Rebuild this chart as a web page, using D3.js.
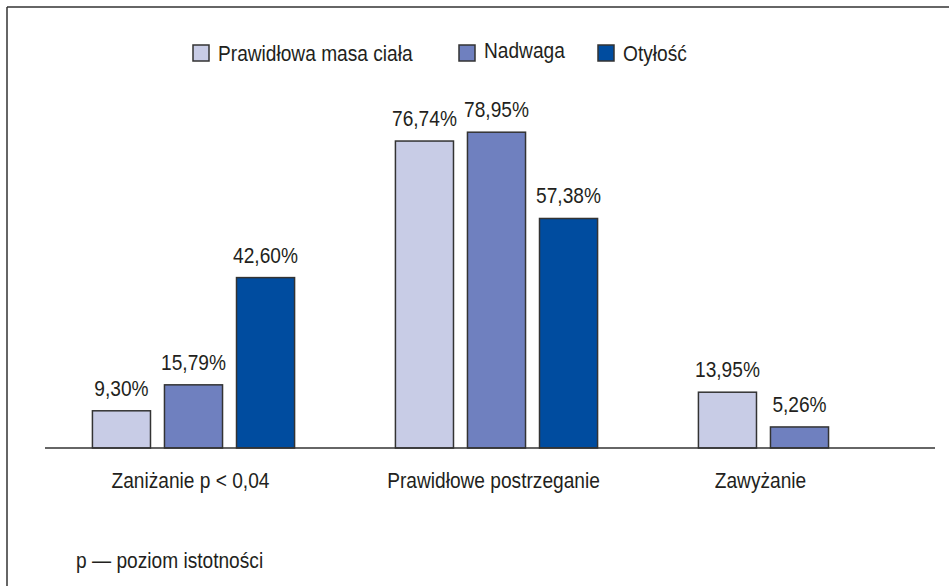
<!DOCTYPE html>
<html>
<head>
<meta charset="utf-8">
<script src="https://cdn.jsdelivr.net/npm/d3@7"></script>
<style>
  body { margin: 0; background: #fff; }
  text { font-family: "Liberation Sans", Arial, sans-serif; font-size: 22px; fill: #231f20; }
</style>
</head>
<body>
<svg id="chart"></svg>
<script>
var width = 949, height = 586;

// data
var categories = ["Zaniżanie p < 0,04", "Prawidłowe postrzeganie", "Zawyżanie"];
var series = ["Prawidłowa masa ciała", "Nadwaga", "Otyłość"];
var prawidlowa = [9.30, 76.74, 13.95];
var nadwaga = [15.79, 78.95, 5.26];
var otylosc = [42.60, 57.38, null];
var colors = ["#c8cce6", "#6f80bf", "#004c9f"];

var values = [prawidlowa, nadwaga, otylosc];

var svg = d3.select("#chart")
    .attr("width", width)
    .attr("height", height);

// condensed look: squeeze text horizontally
var squeeze = 0.87;
function place(sel, x, y) {
  return sel.attr("transform", function(d, i) {
    var xx = typeof x == "function" ? x(d, i) : x;
    var yy = typeof y == "function" ? y(d, i) : y;
    return "translate(" + xx + "," + yy + ") scale(" + squeeze + ",1)";
  });
}

// frame lines
svg.append("line")
    .attr("x1", 7).attr("y1", 7).attr("x2", width).attr("y2", 7)
    .attr("stroke", "#333").attr("stroke-width", 1.5);
svg.append("line")
    .attr("x1", 7).attr("y1", 7).attr("x2", 7).attr("y2", height)
    .attr("stroke", "#333").attr("stroke-width", 1.5);

var x0 = d3.scaleBand()
    .domain(categories)
    .range([42, 951])
    .paddingInner(0);

var x1 = d3.scaleBand()
    .domain(series)
    .range([0, x0.bandwidth()])
    .paddingInner(0.194)
    .paddingOuter(0.7);

var y = d3.scaleLinear()
    .domain([0, 100])
    .range([448, 48]);

var fmt = function(v) { return v.toFixed(2).replace(".", ",") + "%"; };

var groups = svg.append("g").selectAll("g")
    .data(categories)
  .enter().append("g")
    .attr("transform", function(d) { return "translate(" + x0(d) + ",0)"; });

groups.each(function(cat, ci) {
  var g = d3.select(this);
  var rows = series.map(function(s, si) {
    return {s: s, v: values[si][ci], c: colors[si]};
  }).filter(function(d) { return d.v != null; });

  g.selectAll("rect")
      .data(rows)
    .enter().append("rect")
      .attr("x", function(d) { return x1(d.s); })
      .attr("y", function(d) { return y(d.v); })
      .attr("width", x1.bandwidth())
      .attr("height", function(d) { return y(0) - y(d.v); })
      .attr("fill", function(d) { return d.c; })
      .attr("stroke", "#333")
      .attr("stroke-width", 1.5);

  var vals = g.selectAll("text.val")
      .data(rows)
    .enter().append("text")
      .attr("class", "val")
      .attr("text-anchor", "middle")
      .text(function(d) { return fmt(d.v); });
  place(vals,
      function(d) { return x1(d.s) + x1.bandwidth() / 2; },
      function(d) { return y(d.v) - 15; });

  // category label centered under the bars present
  var first = x1(rows[0].s), last = x1(rows[rows.length - 1].s) + x1.bandwidth();
  place(g.append("text")
      .attr("text-anchor", "middle")
      .text(cat), (first + last) / 2 - 3, 488);
});

// baseline
svg.append("line")
    .attr("x1", 45).attr("x2", 935)
    .attr("y1", y(0)).attr("y2", y(0))
    .attr("stroke", "#333").attr("stroke-width", 1.5);

// legend
var legendX = [193, 459, 598];
var legend = svg.append("g").selectAll("g")
    .data(series)
  .enter().append("g")
    .attr("transform", function(d, i) { return "translate(" + legendX[i] + ",45)"; });

legend.append("rect")
    .attr("width", 16).attr("height", 16)
    .attr("fill", function(d, i) { return colors[i]; })
    .attr("stroke", "#333")
    .attr("stroke-width", 1.5);

place(legend.append("text")
    .text(function(d) { return d; }),
    25, function(d, i) { return i == 1 ? 13 : 15.5; });

// footnote
place(svg.append("text")
    .text("p — poziom istotności"), 76, 568);
</script>
</body>
</html>
